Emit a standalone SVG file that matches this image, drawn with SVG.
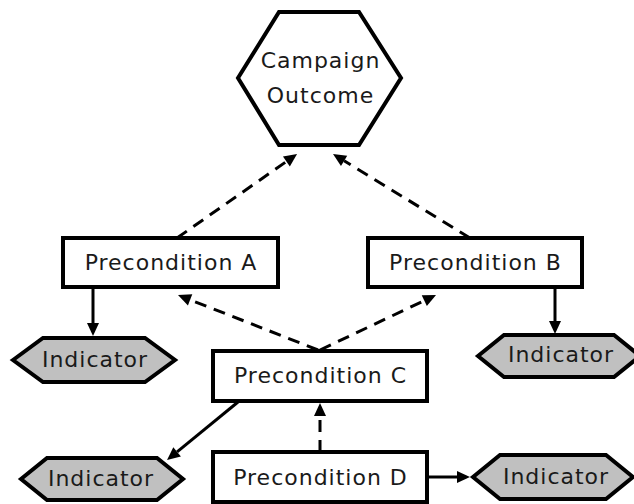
<svg xmlns="http://www.w3.org/2000/svg" width="634" height="504" viewBox="0 0 634 504">
<style>
.box{fill:#fff;stroke:#000;stroke-width:4}
.ind{fill:#c0c0c0;stroke:#000;stroke-width:4;stroke-linejoin:miter}
.lbl{font-family:"DejaVu Sans","Verdana",sans-serif;font-size:22px;letter-spacing:1px;fill:#1a1a1a;text-anchor:middle}
.solid{fill:none;stroke:#000;stroke-width:3}
.dash{fill:none;stroke:#000;stroke-width:3;stroke-dasharray:12 8}
</style>
<defs>
<marker id="ah" markerUnits="userSpaceOnUse" markerWidth="13" markerHeight="12" refX="0" refY="6" orient="auto" overflow="visible">
<path d="M0,0 L13,6 L0,12 z" fill="#000"/>
</marker>
</defs>
<g id="connectors">
<path class="dash" d="M177,238 L286.4,161.5" marker-end="url(#ah)"/>
<path class="dash" d="M470,238 L344.1,160.8" marker-end="url(#ah)"/>
<path class="dash" d="M318,350 L190.1,299.8" marker-end="url(#ah)"/>
<path class="dash" d="M320,350 L424.3,300.6" marker-end="url(#ah)"/>
<path class="solid" d="M93,289 L93,323" marker-end="url(#ah)"/>
<path class="solid" d="M555,289 L555,321" marker-end="url(#ah)"/>
<path class="solid" d="M238,402 L177.1,451.8" marker-end="url(#ah)"/>
<path class="dash" d="M320,452 L320,416" marker-end="url(#ah)"/>
<path class="solid" d="M428,477 L457,477" marker-end="url(#ah)"/>
</g>
<g id="campaign-outcome">
<polygon class="box" points="279,12 359,12 401,78 359,145 279,145 238,78"/>
<text class="lbl" x="320.5" y="68">Campaign</text>
<text class="lbl" x="320.5" y="103">Outcome</text>
</g>
<g id="precondition-a">
<rect class="box" x="63" y="238" width="215" height="49"/>
<text class="lbl" x="171" y="270">Precondition A</text>
</g>
<g id="precondition-b">
<rect class="box" x="368" y="238" width="214" height="49"/>
<text class="lbl" x="475.5" y="270">Precondition B</text>
</g>
<g id="precondition-c">
<rect class="box" x="213" y="351" width="214" height="50"/>
<text class="lbl" x="320.5" y="383">Precondition C</text>
</g>
<g id="precondition-d">
<rect class="box" x="213" y="452" width="214" height="50"/>
<text class="lbl" x="320.5" y="485">Precondition D</text>
</g>
<g id="indicator-a">
<polygon class="ind" points="13,360 43,338 145,338 175,360 145,382 43,382"/>
<text class="lbl" x="95" y="367">Indicator</text>
</g>
<g id="indicator-b">
<polygon class="ind" points="478,356 504,335 614,335 640,356 614,377 504,377"/>
<text class="lbl" x="561" y="362">Indicator</text>
</g>
<g id="indicator-c">
<polygon class="ind" points="21,479 47,458 157,458 183,479 157,500 47,500"/>
<text class="lbl" x="101" y="486">Indicator</text>
</g>
<g id="indicator-d">
<polygon class="ind" points="473,477 500,455 606,455 633,477 606,499 500,499"/>
<text class="lbl" x="556" y="484">Indicator</text>
</g>
</svg>
